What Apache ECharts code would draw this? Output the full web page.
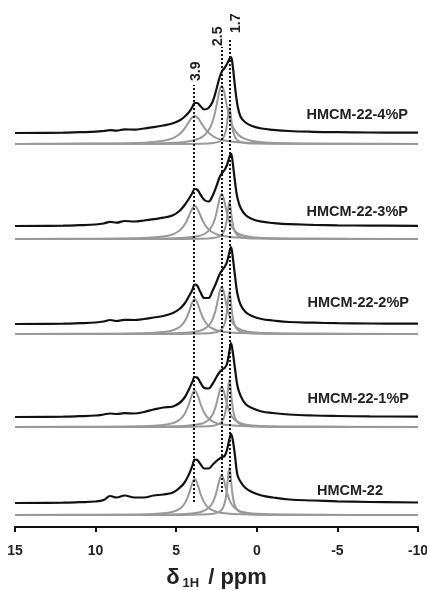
<!DOCTYPE html>
<html>
<head>
<meta charset="utf-8">
<script src="https://cdn.jsdelivr.net/npm/echarts@6/dist/echarts.min.js"></script>
<style>
html,body{margin:0;padding:0;background:#fff}
#main{width:427px;height:590px}
</style>
</head>
<body>
<div id="main"></div>
<script>
// chemical shift grid of the measured spectra (ppm)
var ppm = [15, 12, 11, 10, 9.5, 9.1, 8.7, 8.2, 7.6, 7, 6.4, 5.8, 5.2, 4.8, 4.5, 4.2, 4.0, 3.85, 3.7, 3.5, 3.25, 3.0,
  2.75, 2.5, 2.3, 2.15, 2.0, 1.85, 1.7, 1.6, 1.5, 1.35, 1.2, 1.0, 0.7, 0.3, -0.3, -1, -2, -3.5, -5, -7, -10];

var names = ['HMCM-22-4%P', 'HMCM-22-3%P', 'HMCM-22-2%P', 'HMCM-22-1%P', 'HMCM-22'];

// measured spectra (top to bottom)
var spec4P = [0, 0.3, 0.8, 1.3, 2, 2.8, 2.3, 3.6, 3.4, 4.5, 5.8, 7.5, 9.8, 12.5, 16, 21, 26, 30, 30, 27, 23.5, 25,
  31, 44, 56, 62, 65, 69, 74, 76, 68, 46, 28, 16, 10.5, 7, 4.5, 3.2, 2, 1.2, 0.8, 0.5, 0.3];
var spec3P = [0, 0.3, 0.8, 1.5, 2.5, 4.2, 3.3, 5, 4.5, 5.5, 6.8, 8.3, 10.8, 15, 20.5, 27.5, 33, 37, 36.5, 31.5, 26, 24.5,
  30, 40, 49, 53, 56, 61, 69, 72.5, 64, 44, 28, 18, 11, 7, 4.3, 3, 1.8, 1.1, 0.7, 0.4, 0.2];
var spec2P = [0, 0.3, 0.8, 1.5, 2.5, 4, 3, 4.2, 4, 5, 6.5, 8, 11, 15, 20, 28, 34, 39.5, 38.5, 32, 26, 26,
  33, 42, 50, 54, 57, 62, 72, 77, 68, 48, 30, 19, 12, 8, 5, 3.5, 2, 1.3, 0.8, 0.5, 0.3];
var spec1P = [0, 0.3, 0.8, 1.5, 2.5, 3.5, 3, 3.8, 3.5, 5, 7.5, 9.5, 10.5, 14, 19, 28, 35, 40, 39.5, 34.5, 29, 28.5,
  33, 40, 45, 47.5, 49, 53, 66, 74, 66, 48, 31, 21, 13, 9, 5.5, 4, 2.5, 1.5, 1, 0.6, 0.3];
var spec0P = [0, 0.3, 0.8, 1.5, 3, 7, 5.5, 7.5, 5.5, 5.5, 7.5, 8.5, 10.5, 15, 20, 29, 37, 43.5, 43, 39, 34.5, 34.5,
  38, 42, 44.5, 46, 47, 53, 64, 69, 64, 47, 28, 21, 15, 11, 7.5, 5.5, 3.5, 2.5, 1.7, 1, 0.5];

// fitted components at 3.9, 2.5 and 1.7 ppm, each on its own shift grid
var ppmA = [15, 10, 7, 5.8, 5.2, 4.85, 4.6, 4.4, 4.2, 4.05, 3.85, 3.65, 3.5, 3.3, 3.1, 2.85, 2.5, 2.0, 1, -2, -10];
var ppmB = [15, 10, 6, 4.5, 3.6, 3.2, 2.9, 2.7, 2.55, 2.4, 2.3, 2.18, 2.05, 1.95, 1.8, 1.65, 1.45, 1.15, 0.8, 0.3, -1, -4, -10];
var ppmC = [15, 8, 5, 3.5, 2.7, 2.3, 2.1, 1.95, 1.85, 1.77, 1.7, 1.63, 1.55, 1.45, 1.3, 1.1, 0.7, 0, -3, -10];

var fitA = [
  [0.1, 0.4, 1.3, 3.2, 5.9, 9.2, 13, 17.3, 22.4, 25.9, 28, 25.9, 22.4, 17.3, 13, 9.2, 5.9, 3.5, 1.6, 0.4, 0.1],
  [0.1, 0.3, 1, 2.4, 4.7, 7.7, 11.6, 16.5, 23.5, 29.1, 33, 29.1, 23.5, 16.5, 11.6, 7.7, 4.7, 2.7, 1.2, 0.3, 0.1],
  [0.1, 0.2, 0.8, 1.9, 3.8, 6.3, 9.9, 14.8, 22.5, 29.6, 35, 29.6, 22.5, 14.8, 9.9, 6.3, 3.8, 2.1, 0.9, 0.2, 0.1],
  [0.1, 0.2, 0.8, 2, 3.9, 6.6, 10.3, 15.4, 23.5, 30.9, 36.5, 30.9, 23.5, 15.4, 10.3, 6.6, 3.9, 2.2, 0.9, 0.2, 0.1],
  [0.1, 0.2, 0.6, 1.7, 3.3, 5.6, 8.9, 13.6, 21.6, 29.6, 36, 29.6, 21.6, 13.6, 8.9, 5.6, 3.3, 1.8, 0.8, 0.2, 0.05]
];
var fitB = [
  [0.1, 0.2, 0.8, 2.1, 5.3, 9.5, 16.3, 24.8, 34.6, 46.8, 54.2, 58, 53.5, 46, 33.9, 24.3, 16, 9.3, 5.6, 3.1, 1.1, 0.3, 0.1],
  [0.04, 0.1, 0.4, 1.2, 3, 5.5, 9.8, 15.7, 23.1, 33.7, 40.9, 45, 40.3, 32.9, 22.5, 15.3, 9.6, 5.4, 3.2, 1.8, 0.6, 0.2, 0.05],
  [0.04, 0.1, 0.5, 1.2, 3.1, 5.7, 10.2, 16.4, 24.1, 35.2, 42.7, 47, 42.1, 34.4, 23.5, 15.9, 10, 5.6, 3.3, 1.8, 0.7, 0.2, 0.05],
  [0.04, 0.1, 0.4, 1, 2.7, 4.9, 8.7, 13.9, 20.5, 30, 36.4, 40, 35.8, 29.3, 20, 13.6, 8.5, 4.8, 2.8, 1.6, 0.6, 0.15, 0.04],
  [0.04, 0.1, 0.4, 1, 2.6, 4.8, 8.6, 13.7, 20.3, 29.6, 35.9, 39.5, 35.4, 28.9, 19.8, 13.4, 8.4, 4.7, 2.8, 1.5, 0.6, 0.15, 0.04]
];
var fitC = [
  [0, 0, 0.1, 0.3, 1, 2.7, 5.5, 11.4, 20.2, 30.8, 36, 30.8, 20.2, 11.4, 5.5, 2.7, 1, 0.4, 0, 0],
  [0, 0, 0.1, 0.3, 1, 2.7, 5.7, 11.7, 20.8, 31.6, 37, 31.6, 20.8, 11.7, 5.7, 2.7, 1, 0.4, 0, 0],
  [0, 0, 0.1, 0.4, 1.2, 3.1, 6.4, 13.3, 23.6, 35.9, 42, 35.9, 23.6, 13.3, 6.4, 3.1, 1.2, 0.4, 0.05, 0],
  [0, 0, 0.1, 0.4, 1.3, 3.5, 7.2, 14.9, 26.4, 40.2, 47, 40.2, 26.4, 14.9, 7.2, 3.5, 1.3, 0.4, 0.05, 0],
  [0, 0, 0.1, 0.4, 1.3, 3.5, 7.2, 14.9, 26.4, 40.2, 47, 40.2, 26.4, 14.9, 7.2, 3.5, 1.3, 0.4, 0.05, 0]
];

// stacking offsets (same units as intensity)
var offsets = [394, 301, 203, 110, 24];
var fitOffsets = [383, 288, 193, 100, 12];

// dotted peak markers
var peakPos = [3.9, 2.2, 1.7];
var peakLabels = ['3.9', '2.5', '1.7'];

var xTicks = [15, 10, 5, 0, -5, -10];

// ---- layout ----
var FONT = 'Liberation Sans, Arial, Helvetica, sans-serif';
var lineEnds = [[25, 442], [35, 480], [45, 487]];
var nameAnchors = [[408, 115], [408, 212], [409, 303], [409, 399], [383, 491]];
var peakLabelAnchors = [[196, 81], [218, 46], [236, 33]];

var specs = [spec4P, spec3P, spec2P, spec1P, spec0P];

function shift(xs, ys, off) {
  var out = [];
  for (var i = 0; i < xs.length; i++) out.push([xs[i], ys[i] + off]);
  return out;
}

var series = [];
for (var k = 0; k < 5; k++) {
  var comps = [[ppmA, fitA[k]], [ppmB, fitB[k]], [ppmC, fitC[k]]];
  for (var c = 0; c < 3; c++) {
    series.push({
      type: 'line',
      data: shift(comps[c][0], comps[c][1], fitOffsets[k]),
      smooth: 0.4,
      showSymbol: false,
      lineStyle: {color: '#999', width: 2},
      z: 2
    });
  }
  series.push({
    type: 'line',
    data: shift(ppm, specs[k], offsets[k]),
    smooth: 0.4,
    showSymbol: false,
    lineStyle: {color: '#111', width: 2.2},
    z: 3
  });
}

// dotted guide lines
var ml = [];
for (var p = 0; p < peakPos.length; p++) {
  ml.push([{coord: [peakPos[p], lineEnds[p][0]]}, {coord: [peakPos[p], lineEnds[p][1]]}]);
}
series.push({
  type: 'line',
  data: [],
  z: 5,
  markLine: {
    silent: true,
    symbol: ['none', 'none'],
    label: {show: false},
    lineStyle: {color: '#000', type: [2, 2], width: 1.8},
    data: ml
  }
});

var graphics = [];
for (var n = 0; n < names.length; n++) {
  graphics.push({
    type: 'text',
    x: nameAnchors[n][0],
    y: nameAnchors[n][1],
    style: {text: names[n], font: 'bold 14.5px ' + FONT, fill: '#222', align: 'right', verticalAlign: 'middle'}
  });
}
for (var q = 0; q < peakLabels.length; q++) {
  graphics.push({
    type: 'text',
    x: peakLabelAnchors[q][0],
    y: peakLabelAnchors[q][1],
    rotation: Math.PI / 2,
    style: {text: peakLabels[q], font: 'bold 14px ' + FONT, fill: '#222', align: 'left', verticalAlign: 'middle'}
  });
}

var chart = echarts.init(document.getElementById('main'));
chart.setOption({
  animation: false,
  backgroundColor: '#fff',
  grid: {left: 15, right: 9, top: 0, bottom: 63, containLabel: false, outerBoundsMode: 'none'},
  xAxis: {
    type: 'value',
    inverse: true,
    min: -10,
    max: 15,
    interval: 5,
    name: '{d|δ}{s|1H}{d| / ppm}',
    nameLocation: 'middle',
    nameGap: 38,
    nameTextStyle: {
      rich: {
        d: {fontSize: 22, fontWeight: 'bold', fontFamily: FONT, color: '#222'},
        s: {fontSize: 13, fontWeight: 'bold', fontFamily: FONT, color: '#222', verticalAlign: 'top', padding: [12, 3, 0, 3]}
      }
    },
    axisLine: {show: true, onZero: false, lineStyle: {color: '#111', width: 2}},
    axisTick: {show: true, length: 5, lineStyle: {color: '#111', width: 2}},
    axisLabel: {
      margin: 17, fontSize: 14, fontWeight: 'bold', fontFamily: FONT, color: '#222',
      formatter: function (v) { return xTicks.indexOf(v) >= 0 ? String(v) : ''; }
    },
    splitLine: {show: false}
  },
  yAxis: {type: 'value', min: 0, max: 527, show: false},
  graphic: graphics,
  series: series
});
</script>
</body>
</html>
